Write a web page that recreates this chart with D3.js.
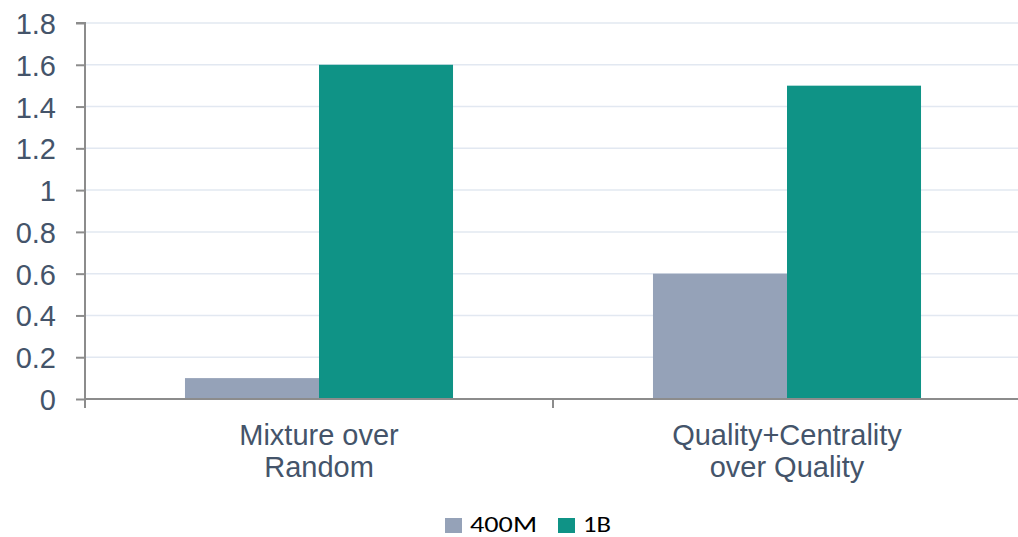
<!DOCTYPE html>
<html>
<head>
<meta charset="utf-8">
<script src="https://cdn.jsdelivr.net/npm/d3@7"></script>
<style>
  html, body { margin: 0; padding: 0; background: #fff; overflow: hidden; }
  svg { display: block; }
</style>
</head>
<body>
<svg id="chart" width="1018" height="537"></svg>
<script>
// Gains by comparison and model size
const categories = [["Mixture over", "Random"], ["Quality+Centrality", "over Quality"]];
const seriesNames = ["400M", "1B"];
const values400M = [0.1, 0.6];
const values1B = [1.6, 1.5];
const yTicks = [0, 0.2, 0.4, 0.6, 0.8, 1, 1.2, 1.4, 1.6, 1.8];
const colors = ["#95A2B8", "#0F9386"];

const svg = d3.select("#chart");
const W = 1018;
const plotLeft = 85, plotRight = 1021, plotBottom = 399, plotTop = 23;

const x0 = d3.scaleBand()
  .domain(d3.range(categories.length))
  .range([plotLeft, plotRight])
  .paddingInner(0)
  .paddingOuter(0);

const x1 = d3.scaleBand()
  .domain(seriesNames)
  .range([0, x0.bandwidth()])
  .paddingInner(0)
  .paddingOuter(0.746);

const y = d3.scaleLinear().domain([0, 1.8]).range([plotBottom, plotTop]);

// gridlines
svg.append("g")
  .selectAll("line")
  .data(yTicks.filter(d => d > 0))
  .join("line")
  .attr("x1", plotLeft).attr("x2", W)
  .attr("y1", d => y(d)).attr("y2", d => y(d))
  .attr("stroke", "#E2E8F1").attr("stroke-width", 1.5);

// bars
const series = [values400M, values1B];
const g = svg.append("g");
categories.forEach((c, i) => {
  seriesNames.forEach((s, j) => {
    g.append("rect")
      .attr("x", x0(i) + x1(s))
      .attr("y", y(series[j][i]))
      .attr("width", x1.bandwidth())
      .attr("height", y(0) - y(series[j][i]))
      .attr("fill", colors[j]);
  });
});

// y axis
const yAxis = d3.axisLeft(y).tickValues(yTicks).tickSize(9).tickPadding(20)
  .tickFormat(d => d3.format("~g")(d));
const ya = svg.append("g").attr("transform", `translate(${plotLeft},0)`).call(yAxis);
ya.select(".domain").attr("stroke", "#8C8C8C").attr("stroke-width", 2)
  .attr("d", `M-9,${plotTop}H0V${plotBottom + 9}`);
ya.selectAll(".tick line").attr("stroke", "#8C8C8C").attr("stroke-width", 2);
ya.selectAll(".tick text")
  .attr("fill", "#44546A")
  .style("font-family", "'Liberation Sans', Arial, sans-serif")
  .style("font-size", "29px")
  .attr("x", -29)
  .attr("dy", "0.36em");

// x axis
const xa = svg.append("g");
xa.append("line")
  .attr("x1", plotLeft).attr("x2", W)
  .attr("y1", plotBottom).attr("y2", plotBottom)
  .attr("stroke", "#8C8C8C").attr("stroke-width", 2);
xa.selectAll("line.tk")
  .data(d3.range(categories.length + 1))
  .join("line").attr("class", "tk")
  .attr("x1", i => plotLeft + i * x0.bandwidth())
  .attr("x2", i => plotLeft + i * x0.bandwidth())
  .attr("y1", plotBottom).attr("y2", plotBottom + 9)
  .attr("stroke", "#8C8C8C").attr("stroke-width", 2);

const labels = xa.selectAll("text.cat")
  .data(categories)
  .join("text").attr("class", "cat")
  .attr("x", (d, i) => x0(i) + x0.bandwidth() / 2)
  .attr("y", 445)
  .attr("text-anchor", "middle")
  .attr("fill", "#44546A")
  .style("font-family", "'Liberation Sans', Arial, sans-serif")
  .style("font-size", "29px");
labels.each(function(d) {
  const t = d3.select(this);
  d.forEach((line, k) => {
    t.append("tspan")
      .attr("x", t.attr("x"))
      .attr("dy", k === 0 ? 0 : 32)
      .text(line);
  });
});

// legend: wide glyphs
const legend = svg.append("g");
const legendX = [445, 558];
const legendTextWidth = [67, 28];
seriesNames.forEach((s, j) => {
  legend.append("rect")
    .attr("x", legendX[j]).attr("y", 518)
    .attr("width", 17).attr("height", 15)
    .attr("fill", colors[j]);
  legend.append("text")
    .attr("x", legendX[j] + 25).attr("y", 532)
    .attr("fill", "#000")
    .attr("textLength", legendTextWidth[j])
    .attr("lengthAdjust", "spacingAndGlyphs")
    .style("font-family", "Carlito, Lato, 'Open Sans', sans-serif")
    .style("font-size", "22px")
    .text(s);
});
</script>
</body>
</html>
